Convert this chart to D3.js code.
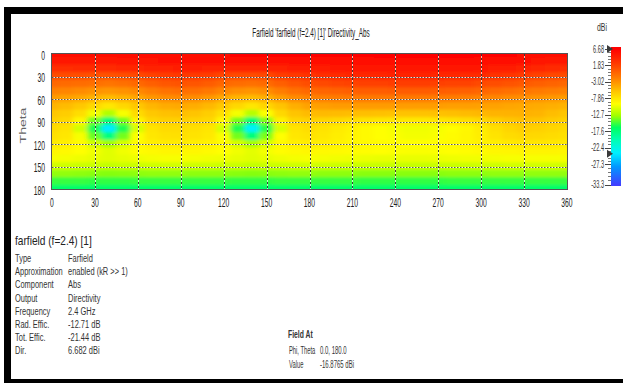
<!DOCTYPE html>
<html>
<head>
<meta charset="utf-8">
<script src="https://cdn.jsdelivr.net/npm/d3@7"></script>
<style>
  html, body { margin: 0; padding: 0; background: #fff; }
  svg { display: block; font-family: "Liberation Sans", Arial, sans-serif; }
</style>
</head>
<body>
<svg id="chart" width="623" height="383"></svg>
<script>
// farfield sample points (deg)
const phiGrid = [0, 10, 20, 30, 40, 50, 60, 70, 80, 90, 100, 110, 120, 130, 140, 150, 160, 170, 180,
  190, 200, 210, 220, 230, 240, 250, 260, 270, 280, 290, 300, 310, 320, 330, 340, 350, 360];
const thetaGrid = [0, 10, 20, 30, 40, 50, 60, 70, 80, 90, 100, 110, 120, 130, 140, 150, 160, 170, 180];

// directivity in dBi, one row per theta, one column per phi
const directivity = [
  [5.6, 5.65, 5.7, 5.75, 5.8, 5.85, 5.9, 5.95, 6.0, 6.05, 6.1, 6.1, 6.15, 6.2, 6.2, 6.25, 6.3, 6.3, 6.35, 6.4, 6.45, 6.5, 6.55, 6.6, 6.65, 6.68, 6.68, 6.65, 6.6, 6.5, 6.4, 6.3, 6.2, 6.05, 5.9, 5.75, 5.6],
  [4.8, 4.85, 4.9, 4.95, 5.0, 5.1, 5.2, 5.3, 5.4, 5.5, 5.5, 5.45, 5.4, 5.4, 5.4, 5.5, 5.55, 5.6, 5.7, 5.75, 5.8, 5.9, 5.95, 6.0, 6.05, 6.1, 6.1, 6.1, 6.05, 6.0, 5.9, 5.75, 5.6, 5.4, 5.2, 5.0, 4.8],
  [3.3, 3.35, 3.4, 3.45, 3.5, 3.7, 3.9, 4.1, 4.3, 4.4, 4.4, 4.3, 4.2, 4.05, 4.0, 4.05, 4.2, 4.35, 4.6, 4.7, 4.8, 4.95, 5.05, 5.1, 5.15, 5.2, 5.2, 5.15, 5.1, 5.0, 4.8, 4.6, 4.4, 4.1, 3.8, 3.55, 3.3],
  [1.2, 1.1, 1.0, 0.9, 0.8, 1.0, 1.4, 1.9, 2.3, 2.5, 2.4, 2.1, 1.6, 1.3, 1.2, 1.5, 2.1, 2.6, 3.0, 3.3, 3.5, 3.7, 3.8, 3.9, 4.0, 4.0, 4.0, 3.9, 3.8, 3.6, 3.4, 3.1, 2.7, 2.3, 1.9, 1.5, 1.2],
  [-0.5, -0.6, -0.8, -1.0, -1.3, -1.0, -0.5, 0.1, 0.6, 0.8, 0.7, 0.3, -0.4, -0.8, -1.0, -0.6, 0.1, 0.7, 1.2, 1.5, 1.7, 1.9, 2.0, 2.0, 2.1, 2.1, 2.1, 2.0, 1.9, 1.8, 1.5, 1.2, 0.8, 0.5, 0.1, -0.2, -0.5],
  [-2.1, -2.3, -2.6, -3.0, -3.3, -3.0, -2.5, -1.8, -1.1, -0.9, -1.0, -1.5, -2.3, -2.9, -3.1, -2.7, -1.8, -1.0, -0.5, -0.3, -0.1, 0.1, 0.2, 0.2, 0.3, 0.3, 0.3, 0.2, 0.1, 0.0, -0.3, -0.6, -1.0, -1.3, -1.6, -1.9, -2.1],
  [-3.6, -3.9, -4.3, -4.9, -5.4, -4.9, -4.2, -3.4, -2.8, -2.6, -2.8, -3.4, -4.3, -5.0, -5.3, -4.7, -3.6, -2.7, -2.2, -2.0, -1.8, -1.7, -1.6, -1.6, -1.6, -1.6, -1.7, -1.8, -1.9, -2.0, -2.2, -2.4, -2.7, -2.9, -3.1, -3.4, -3.6],
  [-4.9, -5.3, -6.0, -7.0, -8.0, -7.0, -6.0, -5.0, -4.4, -4.3, -4.5, -5.1, -6.0, -7.0, -7.9, -6.9, -5.8, -4.6, -3.9, -3.7, -3.5, -3.5, -3.5, -3.5, -3.5, -3.6, -3.6, -3.6, -3.7, -3.7, -3.8, -3.9, -4.1, -4.2, -4.4, -4.6, -4.9],
  [-5.9, -6.3, -7.4, -10.0, -12.4, -9.8, -7.2, -6.0, -5.6, -5.5, -5.8, -6.4, -7.5, -9.9, -12.2, -9.6, -7.0, -5.8, -5.3, -5.2, -5.3, -5.4, -5.5, -5.6, -5.7, -5.7, -5.7, -5.6, -5.5, -5.3, -5.1, -4.9, -4.8, -4.7, -4.9, -5.4, -5.9],
  [-6.6, -7.0, -9.0, -14.0, -17.6, -13.8, -8.8, -6.9, -6.5, -6.5, -6.7, -7.0, -9.0, -13.9, -17.4, -13.7, -8.7, -6.8, -6.6, -6.8, -7.1, -7.4, -7.7, -7.9, -8.0, -8.1, -8.1, -7.9, -7.7, -7.4, -7.0, -6.4, -5.9, -5.6, -5.8, -6.2, -6.6],
  [-7.2, -7.7, -11.2, -16.1, -24.2, -15.9, -11.0, -7.8, -7.3, -7.3, -7.5, -7.9, -11.1, -15.9, -23.8, -15.7, -10.9, -7.8, -7.4, -7.7, -8.2, -8.7, -9.2, -9.5, -9.8, -10.0, -10.0, -9.8, -9.5, -9.0, -8.3, -7.5, -6.9, -6.4, -6.6, -6.9, -7.2],
  [-7.6, -8.0, -9.8, -14.2, -17.9, -14.0, -9.6, -8.0, -7.6, -7.5, -7.7, -8.1, -9.7, -14.0, -17.7, -13.8, -9.5, -8.0, -7.7, -8.0, -8.4, -8.8, -9.2, -9.5, -9.7, -9.9, -9.9, -9.7, -9.3, -8.9, -8.4, -7.8, -7.3, -7.0, -7.1, -7.3, -7.6],
  [-8.2, -8.5, -9.3, -11.2, -13.0, -11.1, -9.2, -8.5, -8.2, -8.2, -8.4, -8.7, -9.2, -11.1, -12.8, -11.0, -9.1, -8.5, -8.3, -8.4, -8.7, -8.9, -9.1, -9.3, -9.4, -9.5, -9.5, -9.4, -9.2, -9.0, -8.7, -8.4, -8.1, -7.9, -7.9, -8.0, -8.2],
  [-8.9, -9.1, -9.5, -10.0, -10.6, -10.0, -9.4, -9.1, -8.9, -8.9, -9.0, -9.2, -9.5, -10.0, -10.5, -9.9, -9.4, -9.1, -9.0, -9.1, -9.2, -9.3, -9.4, -9.5, -9.6, -9.7, -9.7, -9.6, -9.5, -9.4, -9.2, -9.0, -8.9, -8.8, -8.8, -8.8, -8.9],
  [-9.8, -9.9, -10.1, -10.4, -10.6, -10.4, -10.1, -9.9, -9.8, -9.8, -9.9, -10.0, -10.1, -10.4, -10.6, -10.4, -10.1, -9.9, -9.8, -9.9, -10.0, -10.1, -10.2, -10.3, -10.3, -10.3, -10.3, -10.2, -10.1, -10.0, -10.0, -9.9, -9.8, -9.8, -9.8, -9.8, -9.8],
  [-11.2, -11.3, -11.4, -11.5, -11.7, -11.5, -11.4, -11.3, -11.2, -11.2, -11.3, -11.3, -11.4, -11.5, -11.7, -11.5, -11.4, -11.3, -11.2, -11.3, -11.4, -11.4, -11.5, -11.5, -11.6, -11.6, -11.6, -11.5, -11.5, -11.4, -11.3, -11.3, -11.2, -11.2, -11.2, -11.2, -11.2],
  [-13.3, -13.3, -13.4, -13.5, -13.6, -13.5, -13.4, -13.3, -13.3, -13.3, -13.4, -13.4, -13.4, -13.5, -13.6, -13.5, -13.4, -13.3, -13.3, -13.4, -13.4, -13.4, -13.5, -13.5, -13.5, -13.5, -13.5, -13.5, -13.4, -13.4, -13.4, -13.3, -13.3, -13.3, -13.3, -13.3, -13.3],
  [-15.3, -15.3, -15.3, -15.4, -15.4, -15.4, -15.3, -15.3, -15.3, -15.3, -15.3, -15.3, -15.3, -15.4, -15.4, -15.4, -15.3, -15.3, -15.3, -15.3, -15.3, -15.3, -15.4, -15.4, -15.4, -15.4, -15.4, -15.4, -15.3, -15.3, -15.3, -15.3, -15.3, -15.3, -15.3, -15.3, -15.3],
  [-16.88, -16.88, -16.88, -16.88, -16.88, -16.88, -16.88, -16.88, -16.88, -16.88, -16.88, -16.88, -16.88, -16.88, -16.88, -16.88, -16.88, -16.88, -16.88, -16.88, -16.88, -16.88, -16.88, -16.88, -16.88, -16.88, -16.88, -16.88, -16.88, -16.88, -16.88, -16.88, -16.88, -16.88, -16.88, -16.88, -16.88]
];

const phiTicks = [0, 30, 60, 90, 120, 150, 180, 210, 240, 270, 300, 330, 360];
const thetaTicks = [0, 30, 60, 90, 120, 150, 180];
const colorbarTicks = [6.68, 1.83, -3.02, -7.86, -12.7, -17.6, -22.4, -27.3, -33.3];
const colorbarMarks = [6.68, -24.2]; // max / min markers

// CST style colour map (dBi -> colour)
const cmapValues = [6.68, 2.5, -2, -6, -9.5, -13, -16.5, -20, -24, -28, -33.3];
const cmapColors = ['#ff0000', '#ff3800', '#ff8000', '#ffc800', '#ffff00', '#a0ff00', '#00ff60', '#00ffb0', '#00f0ff', '#0098ff', '#4040ff'];

const titleText = "Farfield 'farfield (f=2.4) [1]' Directivity_Abs";
const infoTitle = 'farfield (f=2.4) [1]';
const infoLabels = ['Type', 'Approximation', 'Component', 'Output', 'Frequency', 'Rad. Effic.', 'Tot. Effic.', 'Dir.'];
const infoValues = ['Farfield', 'enabled (kR >> 1)', 'Abs', 'Directivity', '2.4 GHz', '-12.71 dB', '-21.44 dB', '6.682 dBi'];
const probeLabels = ['Phi, Theta', 'Value'];
const probeValues = ['0.0, 180.0', '-16.8765 dBi'];

const width = 623;
const height = 383;
const plot = { left: 52, right: 567, top: 54, bottom: 189 };

const svg = d3.select('#chart');
const defs = svg.append('defs');

const x = d3.scaleLinear().domain([0, 360]).range([plot.left, plot.right]);
const y = d3.scaleLinear().domain([0, 180]).range([plot.top, plot.bottom]);
const color = d3.scaleLinear().domain(cmapValues).range(cmapColors).clamp(true);
const cb = d3.scaleLinear().domain([6.68, -33.3]).range([49, 184.5]);

// squeezed text, the screenshot font is very narrow
function label (parent, px, py, txt, size, opts = {}) {
  return parent.append('text')
    .attr('transform', `translate(${px},${py}) scale(${opts.sx || 0.6},1)`)
    .attr('text-anchor', opts.anchor || 'start')
    .attr('font-size', size)
    .attr('font-weight', opts.weight || 'normal')
    .attr('fill', opts.fill || '#222')
    .attr('dy', opts.dy || null)
    .text(txt);
}

// page + black frame
svg.append('rect').attr('width', width).attr('height', height).attr('fill', '#fff');
svg.append('rect')
  .attr('x', 7.5).attr('y', 10.5)
  .attr('width', 700).attr('height', 372)
  .attr('fill', 'none').attr('stroke', '#000').attr('stroke-width', 7);

// heatmap
defs.append('clipPath').attr('id', 'plot-clip')
  .append('rect')
  .attr('x', plot.left).attr('y', plot.top)
  .attr('width', plot.right - plot.left).attr('height', plot.bottom - plot.top);

defs.append('filter').attr('id', 'smooth')
  .attr('filterUnits', 'userSpaceOnUse')
  .attr('x', 20).attr('y', 30).attr('width', 580).attr('height', 190)
  .append('feGaussianBlur').attr('stdDeviation', '2.5 1.6');

const dPhi = phiGrid[1] - phiGrid[0];
const dTheta = thetaGrid[1] - thetaGrid[0];
const cells = [];
directivity.forEach((row, i) => row.forEach((v, j) => cells.push({ theta: thetaGrid[i], phi: phiGrid[j], v })));

svg.append('g').attr('clip-path', 'url(#plot-clip)')
  .append('g').attr('filter', 'url(#smooth)')
  .selectAll('rect')
  .data(cells)
  .enter()
  .append('rect')
  .attr('x', d => x(d.phi - dPhi / 2) - 0.5)
  .attr('y', d => y(d.theta - dTheta / 2) - 0.5)
  .attr('width', x(dPhi) - x(0) + 1)
  .attr('height', y(dTheta) - y(0) + 1)
  .attr('fill', d => color(d.v));

// dotted grid
const grid = svg.append('g');
const innerPhi = phiTicks.slice(1, -1);
const innerTheta = thetaTicks.slice(1, -1);
[['#fff', null], ['#222', '2,2']].forEach(([stroke, dash]) => {
  grid.selectAll(null).data(innerPhi).enter().append('line')
    .attr('x1', d => Math.round(x(d)) + 0.5).attr('x2', d => Math.round(x(d)) + 0.5)
    .attr('y1', plot.top).attr('y2', plot.bottom)
    .attr('stroke', stroke).attr('stroke-width', 1).attr('stroke-dasharray', dash)
    .attr('opacity', dash ? 0.85 : 0.7);
  grid.selectAll(null).data(innerTheta).enter().append('line')
    .attr('y1', d => Math.round(y(d)) + 0.5).attr('y2', d => Math.round(y(d)) + 0.5)
    .attr('x1', plot.left).attr('x2', plot.right)
    .attr('stroke', stroke).attr('stroke-width', 1).attr('stroke-dasharray', dash ? '1.5,1.5' : null)
    .attr('opacity', dash ? 0.75 : 0.8);
});

svg.append('rect')
  .attr('x', plot.left - 0.5).attr('y', plot.top - 0.5)
  .attr('width', plot.right - plot.left + 1).attr('height', plot.bottom - plot.top + 1)
  .attr('fill', 'none').attr('stroke', '#555').attr('stroke-width', 1);

// axes labels
const axes = svg.append('g');
thetaTicks.forEach(t => label(axes, 45, y(t) + 1, t, 12.5, { anchor: 'end', dy: '0.36em', sx: 0.54 }));
phiTicks.forEach(p => label(axes, x(p), 206.5, p, 12.5, { anchor: 'middle', sx: 0.54 }));

label(axes, 23, y(90) + 4, 'Theta', 14, { anchor: 'middle', fill: '#666' })
  .attr('transform', `translate(23,${y(90) + 4}) scale(0.6,1) rotate(-90)`)
  .attr('dy', '0.35em');

defs.append('clipPath').attr('id', 'phi-clip')
  .append('rect').attr('x', 280).attr('y', 200).attr('width', 60).attr('height', 16);
label(axes, x(180), 220, 'Phi', 14, { anchor: 'middle', fill: '#666' })
  .attr('clip-path', 'url(#phi-clip)');

label(svg, 311, 37, titleText, 12, { anchor: 'middle', fill: '#222', sx: 0.53 });

// colour bar
const barTop = cb(6.68) - 2;
const barBottom = cb(-33.3) + 1.5;
const grad = defs.append('linearGradient').attr('id', 'cbar')
  .attr('x1', 0).attr('x2', 0).attr('y1', 0).attr('y2', 1);
cmapValues.forEach((v, i) => grad.append('stop')
  .attr('offset', (cb(v) - barTop) / (barBottom - barTop))
  .attr('stop-color', cmapColors[i]));

const bar = svg.append('g');
bar.append('rect')
  .attr('x', 611).attr('y', barTop)
  .attr('width', 10).attr('height', barBottom - barTop)
  .attr('fill', 'url(#cbar)');

const minor = [];
colorbarTicks.slice(0, -1).forEach((a, i) => {
  const b = colorbarTicks[i + 1];
  for (let k = 1; k < 5; k++) minor.push(a + (b - a) * k / 5);
});
bar.selectAll(null).data(minor).enter().append('line')
  .attr('x1', 608).attr('x2', 611)
  .attr('y1', d => Math.round(cb(d)) + 0.5).attr('y2', d => Math.round(cb(d)) + 0.5)
  .attr('stroke', '#555').attr('stroke-width', 0.8);
bar.selectAll(null).data(colorbarTicks).enter().append('line')
  .attr('x1', 605).attr('x2', 611)
  .attr('y1', d => Math.round(cb(d)) + 0.5).attr('y2', d => Math.round(cb(d)) + 0.5)
  .attr('stroke', '#444').attr('stroke-width', 1);
colorbarTicks.forEach(v => label(bar, 604, cb(v), v, 10, { anchor: 'end', dy: '0.35em', fill: '#333', sx: 0.56 }));
bar.selectAll(null).data(colorbarMarks).enter().append('path')
  .attr('d', d => `M607,${cb(d) - 4}L613,${cb(d)}L607,${cb(d) + 4}Z`)
  .attr('fill', '#3a3a3a');
label(bar, 602, 31, 'dBi', 11.5, { anchor: 'middle', fill: '#333' });

// result info, lower left
const info = svg.append('g');
label(info, 15, 245, infoTitle, 13, { sx: 0.78, fill: '#222' });
infoLabels.forEach((t, i) => {
  label(info, 15, 262 + i * 13.2, t, 11, { sx: 0.68, fill: '#333' });
  label(info, 68, 262 + i * 13.2, infoValues[i], 11, { sx: 0.68, fill: '#333' });
});

// probe readout
label(info, 288, 338, 'Field At', 11, { sx: 0.62, weight: 'bold', fill: '#333' });
probeLabels.forEach((t, i) => {
  label(info, 289, 353.5 + i * 14, t, 10, { sx: 0.58, fill: '#333' });
  label(info, 320, 353.5 + i * 14, probeValues[i], 10, { sx: 0.6, fill: '#333' });
});
</script>
</body>
</html>
